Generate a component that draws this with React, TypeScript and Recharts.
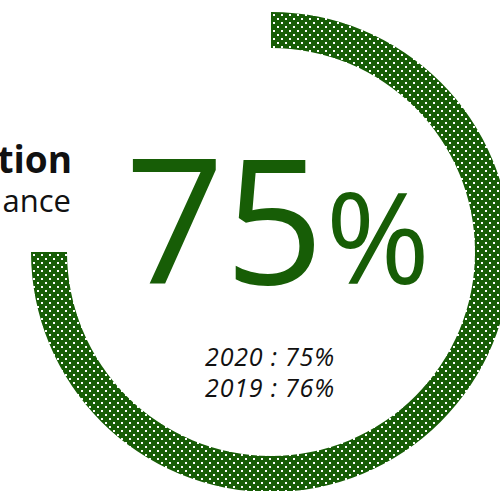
import React from "react";
import { PieChart, Pie, Cell } from "recharts";

const segments = ["2020", "rest"];
const values = [75, 25];
const currentLabel = "75";
const history = ["2020 : 75%", "2019 : 76%"];
const titleLines = ["tion", "ance"];

const GREEN = "#175d06";
const FONT = "'Open Sans', 'Noto Sans', sans-serif";

const data = segments.map((name, i) => ({ name, value: values[i] }));

export default function App() {
  return (
    <div style={{ position: "absolute", left: 0, top: 0, width: 500, height: 491, background: "#fff" }}>
      <PieChart width={500} height={491} margin={{ top: 0, right: 0, bottom: 0, left: 0 }}>
        <defs>
          <pattern id="dots" width={8} height={8} patternUnits="userSpaceOnUse">
            <rect x={0} y={0} width={8} height={8} fill={GREEN} />
            <rect x={1} y={6} width={2} height={2} fill="#ffffff" />
            <rect x={5} y={2} width={2} height={2} fill="#ffffff" />
          </pattern>
        </defs>
        <Pie
          data={data}
          dataKey="value"
          cx={271}
          cy={252}
          innerRadius={204}
          outerRadius={240}
          startAngle={90}
          endAngle={-270}
          stroke="none"
          isAnimationActive={false}
        >
          <Cell fill="url(#dots)" />
          <Cell fill="transparent" />
        </Pie>
        <text x={72} y={173} textAnchor="end" fontFamily={FONT} fontWeight={700} fontSize={37} fill="#111">
          {titleLines[0]}
        </text>
        <text x={71} y={212} textAnchor="end" fontFamily={FONT} fontWeight={400} fontSize={31} fill="#111">
          {titleLines[1]}
        </text>
        <text x={125} y={284} textAnchor="start" fontFamily={FONT} fontWeight={400} fontSize={174} fill={GREEN}>
          {currentLabel}
        </text>
        <text x={430} y={284} textAnchor="end" fontFamily={FONT} fontWeight={400} fontSize={126} fill={GREEN}>
          %
        </text>
        <text x={270} y={366} textAnchor="middle" fontFamily={FONT} fontStyle="italic" fontSize={25} letterSpacing={0.8} fill="#111">
          {history[0]}
        </text>
        <text x={270} y={397} textAnchor="middle" fontFamily={FONT} fontStyle="italic" fontSize={25} letterSpacing={0.8} fill="#111">
          {history[1]}
        </text>
      </PieChart>
    </div>
  );
}
